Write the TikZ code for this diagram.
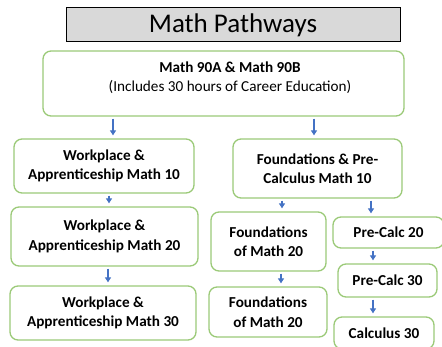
\documentclass[tikz,border=0pt]{standalone}
\usepackage{fontspec}
\setmainfont{Carlito}
\usetikzlibrary{arrows.meta}
\definecolor{boxgreen}{RGB}{155,202,120}
\definecolor{arrowblue}{RGB}{68,114,196}
\definecolor{titlegray}{RGB}{217,217,217}
\begin{document}
\begin{tikzpicture}[x=1pt, y=-1pt,
	course/.style = {draw=boxgreen, line width=1.3pt, rounded corners=8pt, fill=white, align=center, inner sep=0pt, font=\fontsize{15.2}{19.5}\selectfont\bfseries},
	flow/.style = {draw=arrowblue, line width=1.3pt, -{Triangle[width=6pt,length=5pt]}, shorten <=2pt, shorten >=3pt},]
		
		\useasboundingbox (0,0) rectangle (442,347);
		\clip (0,0) rectangle (442,347);
		
		\node[draw, fill=titlegray, line width=1pt, minimum width=334pt, minimum height=34pt, inner sep=0pt, font=\fontsize{27}{32}\selectfont] (title) at (233,25) {Math Pathways};
		
		\node[course, minimum width=361pt, minimum height=65pt] (M90) at (223.5,83.5) {};
		\node[align=center, font=\fontsize{15.2}{19}\selectfont, anchor=north] (M90text) at (230,58) {{\bfseries Math 90A \& Math 90B}\\(Includes 30 hours of Career Education)};
		
		\node[course, minimum width=180pt, minimum height=54pt] (W10) at (104,166) {Workplace \&\\Apprenticeship Math 10};
		\node[course, minimum width=169pt, minimum height=59pt] (F10) at (317.5,168.5) {Foundations \& Pre-\\Calculus Math 10};
		\node[course, minimum width=187pt, minimum height=59pt] (W20) at (104.5,236.5) {Workplace \&\\Apprenticeship Math 20};
		\node[course, minimum width=186pt, minimum height=54pt] (W30) at (103,313) {Workplace \&\\Apprenticeship Math 30};
		\node[course, minimum width=115pt, minimum height=59pt] (F20) at (268.5,241.5) {Foundations\\of Math 20};
		\node[course, minimum width=118pt, minimum height=50pt] (F30) at (268,312) {Foundations\\of Math 20};
		\node[course, minimum width=111pt, minimum height=31pt] (PC20) at (388.5,232.5) {Pre-Calc 20};
		\node[course, minimum width=99pt, minimum height=33pt] (PC30) at (387.5,280.5) {Pre-Calc 30};
		\node[course, minimum width=100pt, minimum height=32pt] (C30) at (384,333) {Calculus 30};
		
		\draw[flow] (M90.south -| 113,0) -- (W10.north -| 113,0);
		\draw[flow] (M90.south -| 314,0) -- (F10.north -| 314,0);
		\draw[flow] (W10.south -| 109,0) -- (W20.north -| 109,0);
		\draw[flow] (W20.south -| 108,0) -- (W30.north -| 108,0);
		\draw[flow] (F10.south -| 282,0) -- (F20.north -| 282,0);
		\draw[flow] (F10.south -| 371,0) -- (PC20.north -| 371,0);
		\draw[flow] (F20.south -| 281,0) -- (F30.north -| 281,0);
		\draw[flow] (PC20.south -| 373,0) -- (PC30.north -| 373,0);
		\draw[flow] (PC30.south -| 373,0) -- (C30.north -| 373,0);
		
	\end{tikzpicture}
\end{document}
